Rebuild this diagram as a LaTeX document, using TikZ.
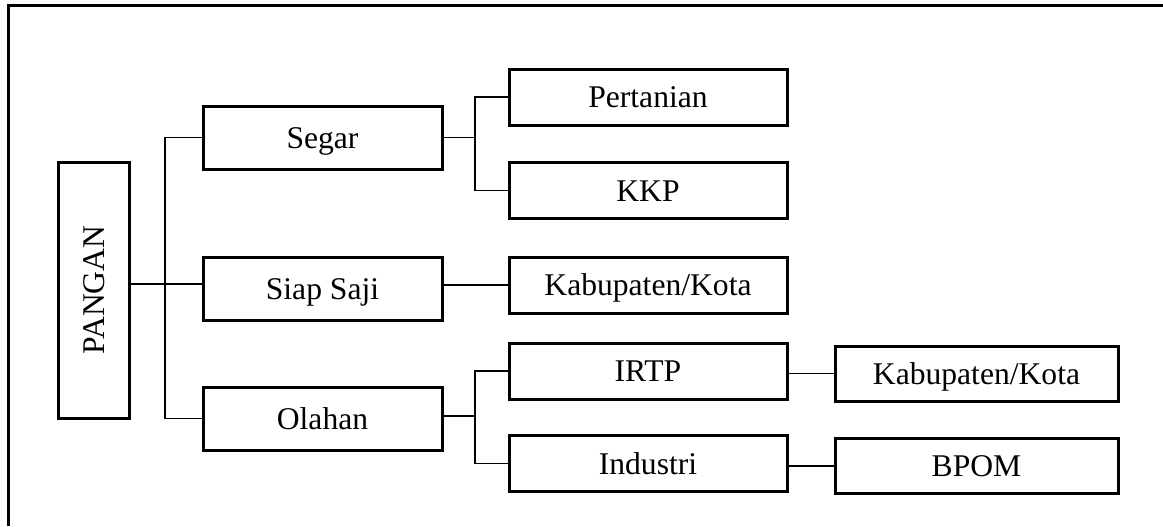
\documentclass[tikz,border=0pt]{standalone}
\usepackage{fontspec}
\setmainfont{Liberation Serif}
\usepackage{tikz}

\begin{document}
\begin{tikzpicture}[x=0.5pt,y=-0.5pt,
	box/.style={draw, line width=1.5pt, inner sep=0pt, text height=10.5pt, text depth=0pt,
		font=\fontsize{15.8}{19}\selectfont},
	mid/.style={box, minimum width=119.5pt, minimum height=31.5pt},
	sub/.style={box, minimum width=139pt, minimum height=28pt},
	end/.style={box, minimum width=141.5pt, minimum height=27.5pt},
	link/.style={line width=0.65pt}]
		\useasboundingbox (0,0) rectangle (1163,526);
		% frame
		\draw[line width=1.5pt] (8,526) -- (8,5) -- (1163,5);
		
		\node[box, rotate=90, minimum width=128pt, minimum height=35.5pt] (pangan) at (93.5,290) {PANGAN};
		
		\node[mid] (segar) at (322.5,137.5) {Segar};
		\node[mid] (siap) at (322.5,288.5) {Siap Saji};
		\node[mid] (olahan) at (322.5,418.5) {Olahan};
		
		\node[sub] (tani) at (648,97) {Pertanian};
		\node[sub] (kkp) at (648,190.5) {KKP};
		\node[sub] (kab) at (648,285) {Kabupaten/Kota};
		\node[sub] (irtp) at (648,371) {IRTP};
		\node[sub] (industri) at (648,463.5) {Industri};
		
		\node[end] (kabb) at (976.5,373.5) {Kabupaten/Kota};
		\node[end] (bpom) at (976.5,466) {BPOM};
		
		% connectors
		\coordinate (trunk) at (165,284);
		\draw[link] (pangan.south |- trunk) -- (siap.west |- trunk);
		\draw[link] (segar.west) -| (trunk) |- (olahan.west);
		
		\coordinate (segarfork) at (475,137.5);
		\draw[link] (segar.east) -- (segarfork);
		\draw[link] (tani.west) -| (segarfork) |- (kkp.west);
		\draw[link] (siap.east |- kab.west) -- (kab.west);
		
		\coordinate (olahanfork) at (475,416);
		\draw[link] (olahan.east |- olahanfork) -- (olahanfork);
		\draw[link] (irtp.west) -| (olahanfork) |- (industri.west);
		
		\draw[link] (irtp.east |- kabb.west) -- (kabb.west);
		\draw[link] (industri.east |- bpom.west) -- (bpom.west);
	\end{tikzpicture}
\end{document}
